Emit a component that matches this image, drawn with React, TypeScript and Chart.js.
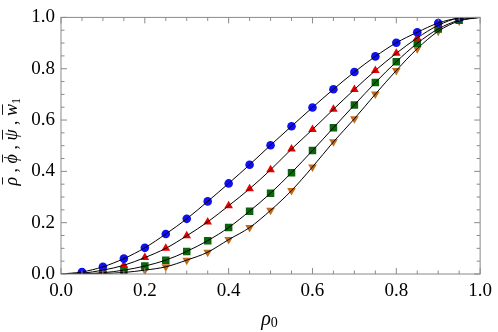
import React, { useEffect, useRef } from "react";
import { Chart, registerables } from "chart.js";

Chart.register(...registerables);

const rho0 = [0.05, 0.1, 0.15, 0.2, 0.25, 0.3, 0.35, 0.4, 0.45, 0.5, 0.55, 0.6, 0.65, 0.7, 0.75, 0.8, 0.85, 0.9, 0.95];
const rhoBar = [0.008, 0.028, 0.06, 0.102, 0.156, 0.215, 0.283, 0.353, 0.426, 0.502, 0.576, 0.649, 0.72, 0.787, 0.848, 0.901, 0.942, 0.978, 0.997];
const phiBar = [0.003, 0.015, 0.034, 0.064, 0.1, 0.149, 0.203, 0.266, 0.332, 0.406, 0.487, 0.563, 0.642, 0.719, 0.793, 0.86, 0.92, 0.969, 0.997];
const psiBar = [0.001, 0.005, 0.015, 0.031, 0.054, 0.088, 0.13, 0.181, 0.245, 0.315, 0.395, 0.481, 0.57, 0.659, 0.746, 0.827, 0.899, 0.955, 0.989];
const w1Bar = [0.0005, 0.002, 0.006, 0.015, 0.028, 0.054, 0.085, 0.134, 0.181, 0.248, 0.325, 0.417, 0.515, 0.605, 0.701, 0.793, 0.878, 0.946, 0.986];
const xTicks = [0, 0.2, 0.4, 0.6, 0.8, 1.0];
const yTicks = [0, 0.2, 0.4, 0.6, 0.8, 1.0];

const SERIF = "'Liberation Serif', serif";

const pts = (xs: number[], ys: number[]) => xs.map((x, i) => ({ x, y: ys[i] }));
const curve = (ys: number[]) => pts([0, ...rho0, 1], [0, ...ys, 1]);

const framePlugin = {
  id: "frame",
  afterDraw(chart: any) {
    const ctx = chart.ctx;
    const { left, right, top, bottom } = chart.chartArea;
    const xs = chart.scales.x;
    const ys = chart.scales.y;
    ctx.save();
    ctx.strokeStyle = "#8a8a8a";
    ctx.lineWidth = 1;
    ctx.strokeRect(left, top, right - left, bottom - top);
    ctx.beginPath();
    for (let i = 0; i <= 20; i++) {
      const v = i * 0.05;
      const major = i % 4 === 0;
      const len = major ? 6 : 3.5;
      const px = xs.getPixelForValue(v);
      ctx.moveTo(px, bottom);
      ctx.lineTo(px, bottom - len);
      ctx.moveTo(px, top);
      ctx.lineTo(px, top + len);
      const py = ys.getPixelForValue(v);
      ctx.moveTo(left, py);
      ctx.lineTo(left + len, py);
      ctx.moveTo(right, py);
      ctx.lineTo(right - len, py);
    }
    ctx.stroke();

    // x title
    ctx.fillStyle = "#000";
    ctx.textBaseline = "alphabetic";
    ctx.font = `italic 20px ${SERIF}`;
    const wr = ctx.measureText("ρ").width;
    ctx.font = `14px ${SERIF}`;
    const w0 = ctx.measureText("0").width;
    const cx = (left + right) / 2 - 1;
    const x0 = cx - (wr + w0) / 2;
    ctx.font = `italic 20px ${SERIF}`;
    ctx.fillText("ρ", x0, 325);
    ctx.font = `14px ${SERIF}`;
    ctx.fillText("0", x0 + wr, 327);

    // y title with overlines
    const parts: { t: string; f: string; bar: boolean; dy: number }[] = [
      { t: "ρ", f: `italic 18px ${SERIF}`, bar: true, dy: 0 },
      { t: " , ", f: `18px ${SERIF}`, bar: false, dy: 0 },
      { t: "ϕ", f: `italic 18px ${SERIF}`, bar: true, dy: 0 },
      { t: " , ", f: `18px ${SERIF}`, bar: false, dy: 0 },
      { t: "ψ", f: `italic 18px ${SERIF}`, bar: true, dy: 0 },
      { t: " , ", f: `18px ${SERIF}`, bar: false, dy: 0 },
      { t: "w", f: `italic 18px ${SERIF}`, bar: true, dy: 0 },
      { t: "1", f: `12px ${SERIF}`, bar: false, dy: 3 },
    ];
    let total = 0;
    const widths = parts.map((p) => {
      ctx.font = p.f;
      const w = ctx.measureText(p.t).width;
      total += w;
      return w;
    });
    ctx.translate(17, (top + bottom) / 2 - 4);
    ctx.rotate(-Math.PI / 2);
    let u = -total / 2;
    ctx.strokeStyle = "#000";
    ctx.lineWidth = 0.9;
    parts.forEach((p, i) => {
      ctx.font = p.f;
      ctx.fillText(p.t, u, p.dy);
      if (p.bar) {
        ctx.beginPath();
        ctx.moveTo(u + 1, -14.5);
        ctx.lineTo(u + widths[i] - 0.5, -14.5);
        ctx.stroke();
      }
      u += widths[i];
    });
    ctx.restore();
  },
};

export default function App() {
  const ref = useRef<HTMLCanvasElement>(null);
  useEffect(() => {
    if (!ref.current) return;
    const lineDs = (ys: number[]) => ({
      type: "line" as const,
      data: curve(ys),
      borderColor: "#000",
      borderWidth: 1,
      pointRadius: 0,
      fill: false,
      cubicInterpolationMode: "monotone" as const,
      order: 0,
    });
    const markDs = (ys: number[], color: string, style: string, r: number, rot = 0) => ({
      type: "scatter" as const,
      data: pts(rho0, ys),
      backgroundColor: color,
      borderColor: color,
      borderWidth: 0,
      pointStyle: style,
      pointRadius: r,
      pointRotation: rot,
      showLine: false,
      order: 1,
    });
    const chart = new Chart(ref.current, {
      type: "scatter",
      data: {
        datasets: [
          lineDs(rhoBar),
          lineDs(phiBar),
          lineDs(psiBar),
          lineDs(w1Bar),
          markDs(rhoBar, "#1010f0", "circle", 4.3),
          markDs(phiBar, "#ee0000", "triangle", 5),
          markDs(psiBar, "#0b650b", "rect", 5.3),
          markDs(w1Bar, "#c46a18", "triangle", 5, 180),
        ] as any,
      },
      options: {
        animation: false,
        responsive: false,
        events: [],
        font: { family: SERIF },
        layout: { padding: { top: 11, right: 12, left: 0, bottom: 0 } },
        plugins: { legend: { display: false }, tooltip: { enabled: false }, title: { display: false } },
        scales: {
          x: {
            type: "linear",
            min: 0,
            max: 1,
            afterFit: (s: any) => { s.height = 58; },
            afterBuildTicks: (s: any) => { s.ticks = xTicks.map((v) => ({ value: v })); },
            grid: { display: false, drawTicks: false },
            border: { display: false },
            ticks: {
              padding: 6,
              color: "#000",
              font: { family: SERIF, size: 19 },
              callback: (v: any) => Number(v).toFixed(1),
              maxRotation: 0,
            },
          },
          y: {
            type: "linear",
            min: 0,
            max: 1,
            afterFit: (s: any) => { s.width = 61; },
            afterBuildTicks: (s: any) => { s.ticks = yTicks.map((v) => ({ value: v })); },
            grid: { display: false, drawTicks: false },
            border: { display: false },
            ticks: {
              padding: 6,
              color: "#000",
              font: { family: SERIF, size: 19 },
              callback: (v: any) => Number(v).toFixed(1),
            },
          },
        },
      } as any,
      plugins: [framePlugin],
    });
    return () => chart.destroy();
  }, []);
  return (
    <div style={{ position: "fixed", left: 0, top: 0, width: 498, height: 332, background: "#fff" }}>
      <canvas ref={ref} width={498} height={332} style={{ width: 498, height: 332 }} />
    </div>
  );
}
